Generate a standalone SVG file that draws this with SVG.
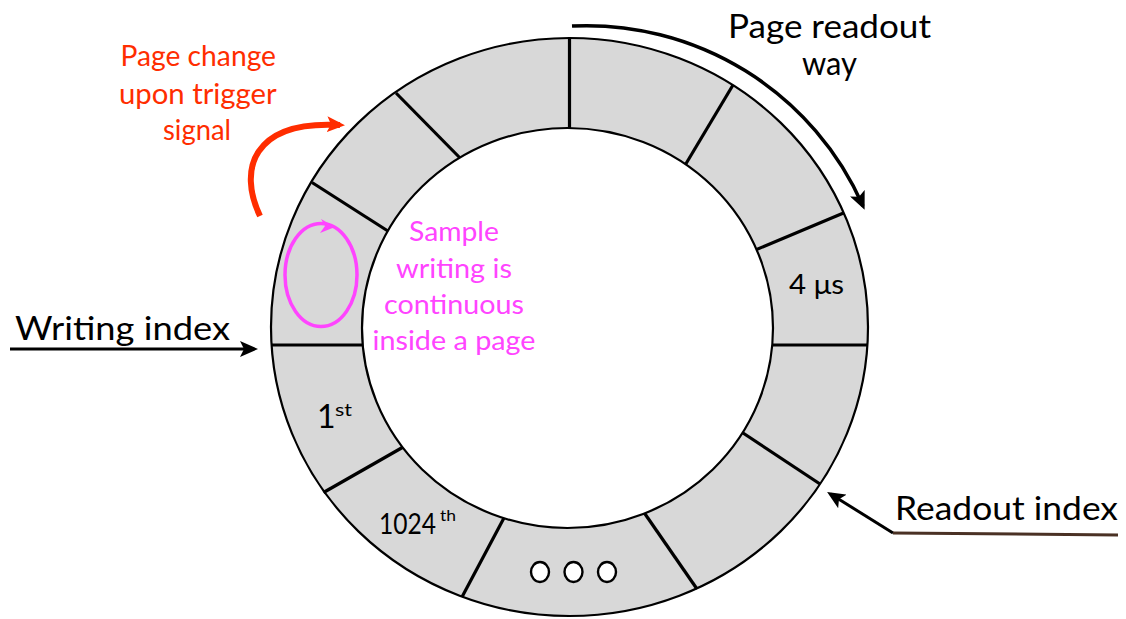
<svg xmlns="http://www.w3.org/2000/svg" width="1126" height="619" viewBox="0 0 1126 619">
  <style>
    .txt { font-family: Lato, "Open Sans", "Liberation Sans", sans-serif; }
    .blk { fill: #000; }
    .red { fill: #ff2d00; }
    .mag { fill: #ff44ff; }
    .div { stroke: #000; stroke-width: 3.2; fill: none; }
    .ring { stroke: #000; stroke-width: 2.2; }
    .dot { fill: #fff; stroke: #000; stroke-width: 2.4; }
  </style>
  <defs>
    <marker id="ahBlack" markerUnits="userSpaceOnUse" markerWidth="18" markerHeight="16" viewBox="0 0 18 16" refX="14" refY="8" orient="auto">
      <path d="M0,0 L18,8 L0,16 L4,8 Z" fill="#000"/>
    </marker>
    <marker id="ahRed" markerUnits="userSpaceOnUse" markerWidth="18" markerHeight="18" viewBox="0 0 18 18" refX="13" refY="9" orient="auto">
      <path d="M0,1 L18,9 L0,17 L4,9 Z" fill="#ff2d00"/>
    </marker>
  </defs>

  <rect width="1126" height="619" fill="#fff"/>

  <g id="ring">
    <ellipse cx="569.5" cy="327" rx="298.5" ry="289" fill="#d8d8d8" class="ring"/>
    <g id="dividers" class="div">
      <line x1="569.5" y1="38" x2="569.5" y2="132"/>
      <line x1="733" y1="85" x2="684" y2="167"/>
      <line x1="843.5" y1="213" x2="753" y2="251"/>
      <line x1="867.4" y1="345" x2="768" y2="345"/>
      <line x1="820" y1="484" x2="740" y2="431"/>
      <line x1="697" y1="589" x2="643" y2="511"/>
      <line x1="462" y1="597" x2="505" y2="516"/>
      <line x1="323.5" y1="492.5" x2="405" y2="446"/>
      <line x1="271.6" y1="345" x2="367" y2="345"/>
      <line x1="312" y1="182.5" x2="391" y2="233"/>
      <line x1="396" y1="93" x2="463" y2="161"/>
    </g>
    <ellipse cx="567.5" cy="328" rx="205.5" ry="200" fill="#fff" class="ring"/>
  </g>

  <g id="seg-4us">
    <text class="txt blk" x="789" y="294" font-size="27" textLength="55" lengthAdjust="spacingAndGlyphs">4 μs</text>
  </g>
  <g id="seg-1st">
    <text class="txt blk" x="317" y="428" font-size="32">1</text>
    <text class="txt blk" x="335" y="416" font-size="17" textLength="17" lengthAdjust="spacingAndGlyphs">st</text>
  </g>
  <g id="seg-1024th">
    <text class="txt blk" x="379" y="534" font-size="28" textLength="57" lengthAdjust="spacingAndGlyphs">1024</text>
    <text class="txt blk" x="440" y="521" font-size="15" textLength="16" lengthAdjust="spacingAndGlyphs">th</text>
  </g>
  <g id="seg-dots">
    <ellipse class="dot" cx="540" cy="572" rx="9" ry="10"/>
    <ellipse class="dot" cx="573.5" cy="572" rx="9" ry="10"/>
    <ellipse class="dot" cx="607" cy="572" rx="9" ry="10"/>
  </g>

  <g id="sample-loop">
    <ellipse cx="321" cy="275" rx="36" ry="51.5" fill="none" stroke="#ff44ff" stroke-width="3.5"/>
    <path d="M335,227 L321,219 L325,226 L320,233 Z" fill="#ff44ff"/>
  </g>

  <g id="label-sample">
    <text class="txt mag" font-size="27">
      <tspan x="409" y="241" textLength="90" lengthAdjust="spacingAndGlyphs">Sample</tspan>
      <tspan x="396" y="278" textLength="116" lengthAdjust="spacingAndGlyphs">writing is</tspan>
      <tspan x="384" y="314" textLength="140" lengthAdjust="spacingAndGlyphs">continuous</tspan>
      <tspan x="372.5" y="350" textLength="163" lengthAdjust="spacingAndGlyphs">inside a page</tspan>
    </text>
  </g>

  <g id="label-page-change">
    <text class="txt red" font-size="28">
      <tspan x="120.5" y="66" textLength="155.5" lengthAdjust="spacingAndGlyphs">Page change</tspan>
      <tspan x="119" y="104" textLength="157" lengthAdjust="spacingAndGlyphs">upon trigger</tspan>
      <tspan x="163" y="140" textLength="68" lengthAdjust="spacingAndGlyphs">signal</tspan>
    </text>
  </g>

  <g id="label-readout-way">
    <text class="txt blk" font-size="33">
      <tspan x="728" y="38" textLength="203" lengthAdjust="spacingAndGlyphs">Page readout</tspan>
      <tspan x="802" y="75" textLength="55" lengthAdjust="spacingAndGlyphs">way</tspan>
    </text>
  </g>

  <g id="label-writing-index">
    <text class="txt blk" x="15" y="340" font-size="33" textLength="215" lengthAdjust="spacingAndGlyphs">Writing index</text>
  </g>

  <g id="label-readout-index">
    <text class="txt blk" x="895" y="520" font-size="32" textLength="223" lengthAdjust="spacingAndGlyphs">Readout index</text>
  </g>

  <g id="connectors">
    <path d="M260,216 C238,170 252,120 340,125" fill="none" stroke="#ff2d00" stroke-width="6" marker-end="url(#ahRed)"/>
    <path d="M572,26 A302,302 0 0 1 863,206" fill="none" stroke="#000" stroke-width="3.5" marker-end="url(#ahBlack)"/>
    <line x1="10" y1="349" x2="254" y2="349" stroke="#000" stroke-width="3" marker-end="url(#ahBlack)"/>
    <line x1="893" y1="533" x2="830.5" y2="494" stroke="#000" stroke-width="3" marker-end="url(#ahBlack)"/>
    <line x1="893" y1="533" x2="1118" y2="535" stroke="#4a3124" stroke-width="3"/>
  </g>
</svg>
